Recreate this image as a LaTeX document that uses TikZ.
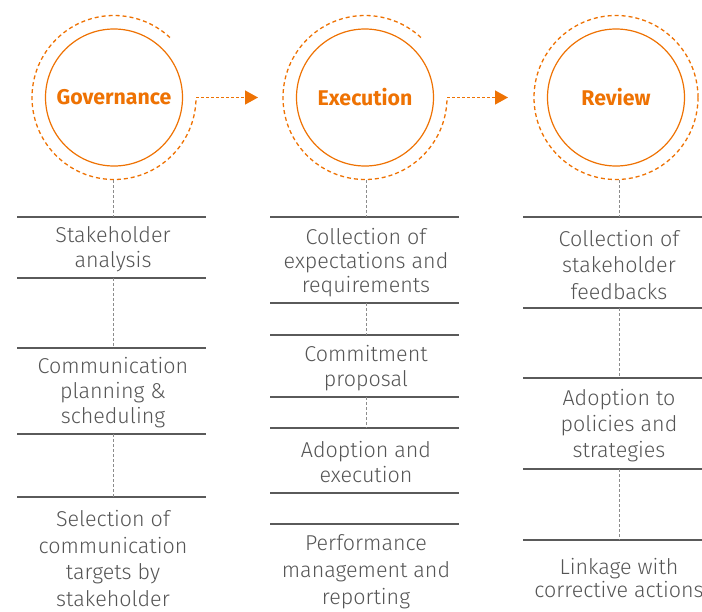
\documentclass[tikz,border=0pt]{standalone}
\usepackage{fontspec}
\setmainfont{Fira Sans}
\newfontfamily\lightfont{Fira Sans Light}
\usetikzlibrary{arrows.meta}
\definecolor{org}{RGB}{238,114,3}
\definecolor{txt}{RGB}{85,85,85}
\definecolor{rulec}{RGB}{90,90,90}
\definecolor{linkc}{RGB}{140,140,140}
\begin{document}
\begin{tikzpicture}[x=1pt,y=-1pt,
  stage/.style={circle,draw=org,line width=1.2pt,minimum size=137pt,inner sep=0pt,
    font=\fontsize{21.3}{24}\selectfont\bfseries,text=org},
  ring/.style={draw=org,line width=1.3pt,dash pattern=on 4pt off 3pt},
  flow/.style={draw=org,line width=1.4pt,dash pattern=on 3pt off 2pt,
    -{Triangle[length=13pt,width=14pt]}},
  sep/.style={draw=rulec,line width=1.2pt},
  link/.style={draw=linkc,line width=1pt,dash pattern=on 3pt off 2pt},
  item/.style={align=center,text=txt,font=\lightfont\fontsize{21.5}{25}\selectfont,inner sep=0pt}]
\useasboundingbox (0,0) rectangle (702,611);

% stages
\node[stage] (gov) at (114,97.5) {Governance};
\node[stage] (exe) at (365,97.5) {Execution};
\node[stage] (rev) at (616,97.5) {Review};

% outer rings
\draw[ring] ([shift={(-47:82)}]gov.center) arc[start angle=-47,end angle=-360,radius=82];
\draw[ring] ([shift={(-47:82)}]exe.center) arc[start angle=-47,end angle=-360,radius=82];
\draw[ring] (rev.center) circle[radius=82];

% arrows between stages
\coordinate (govout) at ([xshift=82pt]gov.center);
\coordinate (exein) at ([xshift=-107pt]exe.center);
\coordinate (exeout) at ([xshift=82pt]exe.center);
\coordinate (revin) at ([xshift=-108pt]rev.center);
\draw[flow] (govout) -- (exein);
\draw[flow] (exeout) -- (revin);

% ----- Governance column -----
\foreach \y in {217,278,348,434,497} \draw[sep] (17,\y) -- (206,\y);
\draw[link] (113,180) -- (113,217);
\draw[link] (113,278) -- (113,348);
\draw[link] (113,434) -- (113,497);
\node[item] (g1) at (113,249.5) {Stakeholder\\analysis};
\node[item] (g2) at (113,392.5) {Communication\\planning \&\\scheduling};
\node[item,font=\lightfont\fontsize{21.5}{26.5}\selectfont] (g3) at (113,558.5) {Selection of\\communication\\targets by\\stakeholder};

% ----- Execution column -----
\foreach \y in {217,303,335,397,428,493,524} \draw[sep] (270,\y) -- (459,\y);
\draw[link] (366,180) -- (366,217);
\draw[link] (366,303) -- (366,335);
\draw[link] (366,397) -- (366,428);
\node[item,font=\lightfont\fontsize{21.5}{24}\selectfont] (e1) at (366,262.5) {Collection of\\expectations and\\requirements};
\node[item] (e2) at (366,368) {Commitment\\proposal};
\node[item] (e3) at (366,462.5) {Adoption and\\execution};
\node[item,font=\lightfont\fontsize{21.5}{27}\selectfont] (e4) at (366,571.5) {Performance\\management and\\reporting};

% ----- Review column -----
\foreach \y in {217,308,378,469,540} \draw[sep] (523,\y) -- (702,\y);
\draw[link] (619,180) -- (619,217);
\draw[link] (619,308) -- (619,378);
\draw[link] (619,469) -- (619,540);
\node[item,font=\lightfont\fontsize{21.5}{26.5}\selectfont] (r1) at (619,265) {Collection of\\stakeholder\\feedbacks};
\node[item,font=\lightfont\fontsize{21.5}{26}\selectfont] (r2) at (619,425.5) {Adoption to\\policies and\\strategies};
\node[item,font=\lightfont\fontsize{21.5}{23.5}\selectfont] (r3) at (619,578) {Linkage with\\corrective actions};
\end{tikzpicture}
\end{document}
